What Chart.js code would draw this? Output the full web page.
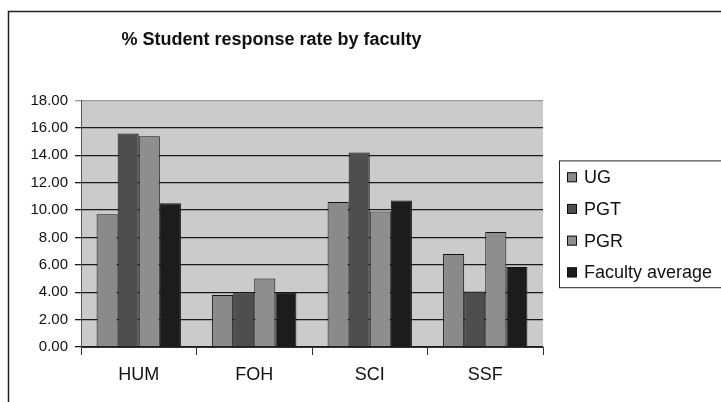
<!DOCTYPE html>
<html>
<head>
<meta charset="utf-8">
<script src="https://cdn.jsdelivr.net/npm/chart.js@4"></script>
<style>
  html, body { margin: 0; padding: 0; background: #fff; }
  #wrap { width: 721px; height: 402px; }
</style>
</head>
<body>
<div id="wrap"><canvas id="myChart" width="721" height="402"></canvas></div>
<script>
// data
const faculties = ['HUM', 'FOH', 'SCI', 'SSF']
const ug = [9.7, 3.8, 10.6, 6.8]
const pgt = [15.6, 4.0, 14.2, 4.05]
const pgr = [15.4, 5.0, 9.9, 8.4]
const facultyAverage = [10.5, 4.0, 10.7, 5.85]
const yTicks = [0, 2, 4, 6, 8, 10, 12, 14, 16, 18]

const seriesNames = ['UG', 'PGT', 'PGR', 'Faculty average']
const seriesColors = ['#8a8a8a', '#4e4e4e', '#8e8e8e', '#1c1c1c']

const FONT = 'Arial, "Liberation Sans", sans-serif'

// frame round the whole chart and grey plot background
const backdrop = {
  id: 'backdrop',
  beforeDraw(chart) {
    const ctx = chart.ctx, a = chart.chartArea
    ctx.save()
    ctx.fillStyle = '#cbcbcb'
    ctx.fillRect(a.left, a.top, a.right - a.left, a.bottom - a.top)
    ctx.strokeStyle = '#222'
    ctx.lineWidth = 1.5
    ctx.strokeRect(8.5, 11.5, 800, 500)
    ctx.restore()
  }
}

// legend in a box to the right of the plot
const boxLegend = {
  id: 'boxLegend',
  afterDraw(chart) {
    const ctx = chart.ctx, a = chart.chartArea
    const sets = chart.data.datasets
    const rowH = 31.7
    const x = a.right + 16
    const h = rowH * sets.length
    const y = (a.top + a.bottom) / 2 - h / 2
    ctx.save()
    ctx.strokeStyle = '#222'
    ctx.lineWidth = 1
    ctx.strokeRect(x + 0.5, y + 0.5, 200, h)
    ctx.font = '18px ' + FONT
    ctx.textBaseline = 'middle'
    sets.forEach((ds, i) => {
      const cy = y + rowH * (i + 0.5) + 1
      ctx.fillStyle = ds.backgroundColor
      ctx.fillRect(x + 8, cy - 5, 10, 10)
      ctx.strokeStyle = '#111'
      ctx.strokeRect(x + 8.5, cy - 4.5, 9, 9)
      ctx.fillStyle = '#111'
      ctx.fillText(ds.label, x + 25, cy + 1)
    })
    ctx.restore()
  }
}

const ctx = document.getElementById('myChart').getContext('2d')
const chart = new Chart(ctx, {
  type: 'bar',
  data: {
    labels: faculties,
    datasets: [ug, pgt, pgr, facultyAverage].map((vals, i) => ({
      label: seriesNames[i],
      data: vals,
      backgroundColor: seriesColors[i],
      borderColor: '#111',
      borderWidth: 1,
      barPercentage: 1,
      categoryPercentage: 0.73
    }))
  },
  options: {
    responsive: false,
    animation: false,
    layout: { padding: { left: 0, right: 178, top: 0, bottom: 0 } },
    plugins: {
      legend: { display: false },
      tooltip: { enabled: false },
      title: {
        display: true,
        text: '% Student response rate by faculty',
        color: '#111',
        font: { family: FONT, size: 18, weight: 'bold' },
        padding: { top: 29, bottom: 50 }
      }
    },
    scales: {
      x: {
        grid: { display: true, drawOnChartArea: false, tickLength: 8, color: '#333', offset: true },
        border: { color: '#333' },
        ticks: { color: '#111', font: { family: FONT, size: 18 }, padding: 9 },
        afterFit(s) { s.height = 55 }
      },
      y: {
        min: 0,
        max: 18,
        afterBuildTicks(s) { s.ticks = yTicks.map(v => ({ value: v })) },
        grid: {
          tickLength: 6,
          color: c => c.tick && c.tick.value === 18 ? '#9a9a9a' : '#1a1a1a',
          lineWidth: 1.3
        },
        border: { color: '#555' },
        ticks: {
          color: '#111',
          font: { family: FONT, size: 15 },
          padding: 7,
          callback: v => v.toFixed(2)
        },
        afterFit(s) { s.width = 81 }
      }
    }
  },
  plugins: [backdrop, boxLegend]
})
</script>
</body>
</html>
